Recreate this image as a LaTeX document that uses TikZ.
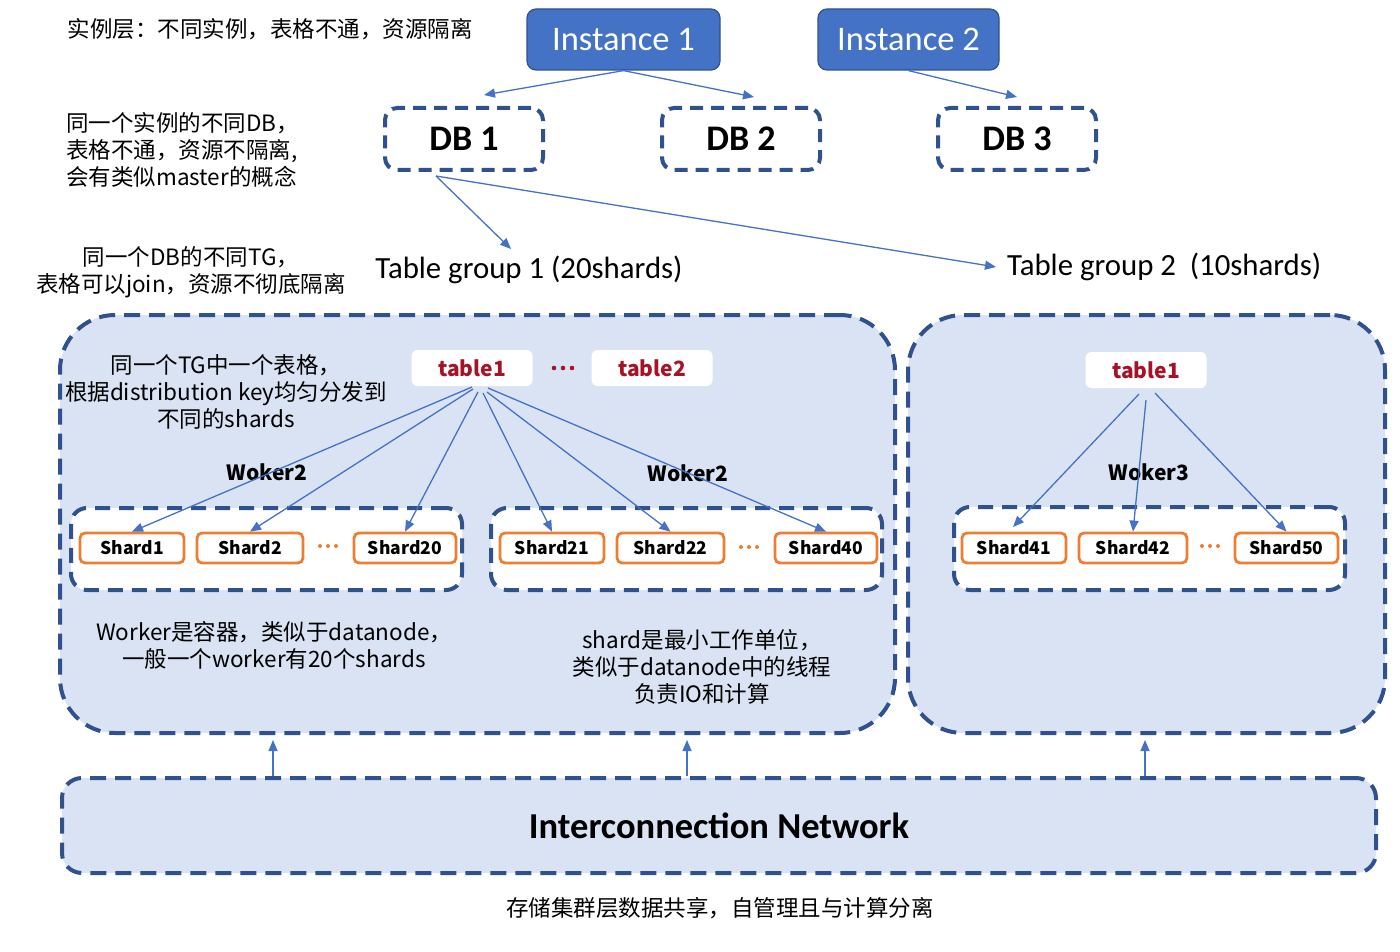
\documentclass[tikz,border=0pt]{standalone}
\usepackage{fontspec}
\setmainfont{Noto Sans CJK SC}
\newfontfamily\calfont{Carlito}
\usetikzlibrary{arrows.meta,calc}
\definecolor{instblue}{RGB}{68,114,196}
\definecolor{instedge}{RGB}{47,82,143}
\definecolor{dashblue}{RGB}{47,82,143}
\definecolor{panel}{RGB}{218,227,243}
\definecolor{arrowblue}{RGB}{68,114,196}
\definecolor{tabred}{RGB}{168,18,38}
\definecolor{shardorange}{RGB}{237,125,49}
\begin{document}
\begin{tikzpicture}[x=1pt,y=-1pt,
  inst/.style={rectangle, rounded corners=9pt, fill=instblue, draw=instedge, line width=1.2pt, text=white, font=\calfont\fontsize{34.5}{40}\selectfont, inner sep=0pt, minimum height=61pt},
  dbbox/.style={rectangle, rounded corners=12pt, draw=dashblue, line width=4pt, dash pattern=on 13pt off 8pt, minimum width=158pt, minimum height=62pt, font=\calfont\bfseries\fontsize{36}{42}\selectfont, inner sep=0pt},
  panelbox/.style={rectangle, rounded corners=55pt, fill=panel, draw=dashblue, line width=4pt, dash pattern=on 16pt off 9pt, inner sep=0pt},
  workerbox/.style={rectangle, rounded corners=16pt, fill=white, draw=dashblue, line width=4pt, dash pattern=on 15pt off 9pt, minimum width=391pt, minimum height=82pt, inner sep=0pt},
  shardbox/.style={rectangle, rounded corners=5pt, fill=white, draw=shardorange, line width=2.8pt, minimum height=30pt, font=\bfseries\fontsize{17.5}{20}\selectfont, inner sep=0pt},
  tablebox/.style={rectangle, rounded corners=6pt, fill=white, minimum width=121pt, minimum height=36pt, text=tabred, font=\bfseries\fontsize{21}{24}\selectfont, inner sep=0pt},
  cjk/.style={font=\fontsize{22.5}{27}\selectfont, align=center, inner sep=0pt},
  tgtext/.style={font=\calfont\fontsize{30.8}{36}\selectfont, inner sep=0pt},
  worklabel/.style={font=\bfseries\fontsize{21}{24}\selectfont, inner sep=0pt},
  arr/.style={draw=arrowblue, line width=1.3pt, -{Triangle[length=11pt,width=9pt]}},
  redot/.style={fill=tabred},
  ordot/.style={fill=shardorange}
]
\useasboundingbox (0,0) rectangle (1400,952);

% panels
\node[panelbox, minimum width=835pt, minimum height=418pt] (c1) at (477.5,524) {};
\node[panelbox, minimum width=477pt, minimum height=418pt] (c2) at (1146.5,524) {};
\node[panelbox, rounded corners=20pt, minimum width=1314pt, minimum height=95pt] (net) at (719,825.5) {};
\node[font=\calfont\bfseries\fontsize{36.5}{42}\selectfont, inner sep=0pt] (nettext) at (719,826) {Interconnection Network};

% instances and DBs
\node[inst, minimum width=193pt] (inst1) at (623.5,39.5) {Instance 1};
\node[inst, minimum width=181pt] (inst2) at (908.5,39.5) {Instance 2};
\node[dbbox] (db1) at (464,139) {DB 1};
\node[dbbox] (db2) at (741,139) {DB 2};
\node[dbbox] (db3) at (1017,139) {DB 3};

% left notes
\node[cjk] (l1) at (270,29) {实例层：不同实例，表格不通，资源隔离};
\node[cjk, align=left, anchor=west] (l2) at (66,150) {同一个实例的不同DB，\\表格不通，资源不隔离,\\会有类似master的概念};
\node[cjk] (l3) at (191,272.5) {同一个DB的不同TG，\\表格可以join，资源不彻底隔离};

% table groups
\node[tgtext] (tg1) at (529,270) {Table group 1 (20shards)};
\node[tgtext, anchor=west] (tg2) at (1007,267) {Table group 2\hspace{0.45em}(10shards)};

% inside container 1
\node[cjk] (l4) at (226,391.5) {同一个TG中一个表格，\\根据distribution key均匀分发到\\不同的shards};
\node[tablebox] (t1) at (472,368) {table1};
\node[tablebox] (t2) at (652,368) {table2};
\fill[redot] (554,368) circle (2.3pt) (563,368) circle (2.3pt) (572,368) circle (2.3pt);
\node[worklabel] (wk1) at (267,472) {Woker2};
\node[worklabel] (wk2) at (688,473) {Woker2};
\node[workerbox] (w1) at (266.5,549) {};
\node[workerbox] (w2) at (686.5,549) {};
\node[shardbox, minimum width=104pt] (s1) at (132,548) {Shard1};
\node[shardbox, minimum width=106pt] (s2) at (250,548) {Shard2};
\node[shardbox, minimum width=102pt] (s20) at (405,548) {Shard20};
\fill[ordot] (320,546) circle (2pt) (328,546) circle (2pt) (336,546) circle (2pt);
\node[shardbox, minimum width=104pt] (s21) at (552,548) {Shard21};
\node[shardbox, minimum width=107pt] (s22) at (670.5,548) {Shard22};
\node[shardbox, minimum width=102pt] (s40) at (826,548) {Shard40};
\fill[ordot] (741,547) circle (2pt) (749,547) circle (2pt) (757,547) circle (2pt);
\node[cjk] (l5) at (274,645) {Worker是容器，类似于datanode，\\一般一个worker有20个shards};
\node[cjk] (l6) at (702,667) {shard是最小工作单位，\\类似于datanode中的线程\\负责IO和计算};

% inside container 2
\node[tablebox] (t3) at (1146,370) {table1};
\node[worklabel] (wk3) at (1149,472) {Woker3};
\node[workerbox, minimum height=83pt] (w3) at (1149.5,548.5) {};
\node[shardbox, minimum width=104pt] (s41) at (1014,548) {Shard41};
\node[shardbox, minimum width=108pt] (s42) at (1133,548) {Shard42};
\node[shardbox, minimum width=103pt] (s50) at (1286.5,548) {Shard50};
\fill[ordot] (1202,546) circle (2pt) (1210,546) circle (2pt) (1218,546) circle (2pt);

% bottom note
\node[cjk] (l7) at (720,908) {存储集群层数据共享，自管理且与计算分离};

% coordinates for connector ends
\coordinate (db1in) at (484,95);
\coordinate (db2in) at (754,97);
\coordinate (db3in) at (1017,97);
\coordinate (db1out) at (436,176);
\coordinate (tg1in) at (511,249);
\coordinate (tg2in) at (996,267);
\coordinate (o1) at (472,387);
\coordinate (o2) at (473,389);
\coordinate (o3) at (478,392);
\coordinate (o4) at (483,393);
\coordinate (o5) at (487,392);
\coordinate (o6) at (488,388);
\coordinate (p1) at (1139,394);
\coordinate (p2) at (1146,400);
\coordinate (p3) at (1155,393);
\coordinate (s41in) at (1013,527);
\coordinate (u1) at (273,740);
\coordinate (u2) at (687,740);
\coordinate (u3) at (1145,740);

% connectors
\draw[arr] (inst1.south) -- (db1in);
\draw[arr] (inst1.south) -- (db2in);
\draw[arr] (inst2.south) -- (db3in);
\draw[arr] (db1out) -- (tg1in);
\draw[arr] (db1out) -- (tg2in);
\draw[arr] (o1) -- (s1.north);
\draw[arr] (o2) -- (s2.north);
\draw[arr] (o3) -- (s20.north);
\draw[arr] (o4) -- (s21.north);
\draw[arr] (o5) -- (s22.north);
\draw[arr] (o6) -- (s40.north);
\draw[arr] (p1) -- (s41in);
\draw[arr] (p2) -- (s42.north);
\draw[arr] (p3) -- (s50.north);
\draw[arr] (net.north -| u1) -- (u1);
\draw[arr] (net.north -| u2) -- (u2);
\draw[arr] (net.north -| u3) -- (u3);
\end{tikzpicture}
\end{document}
